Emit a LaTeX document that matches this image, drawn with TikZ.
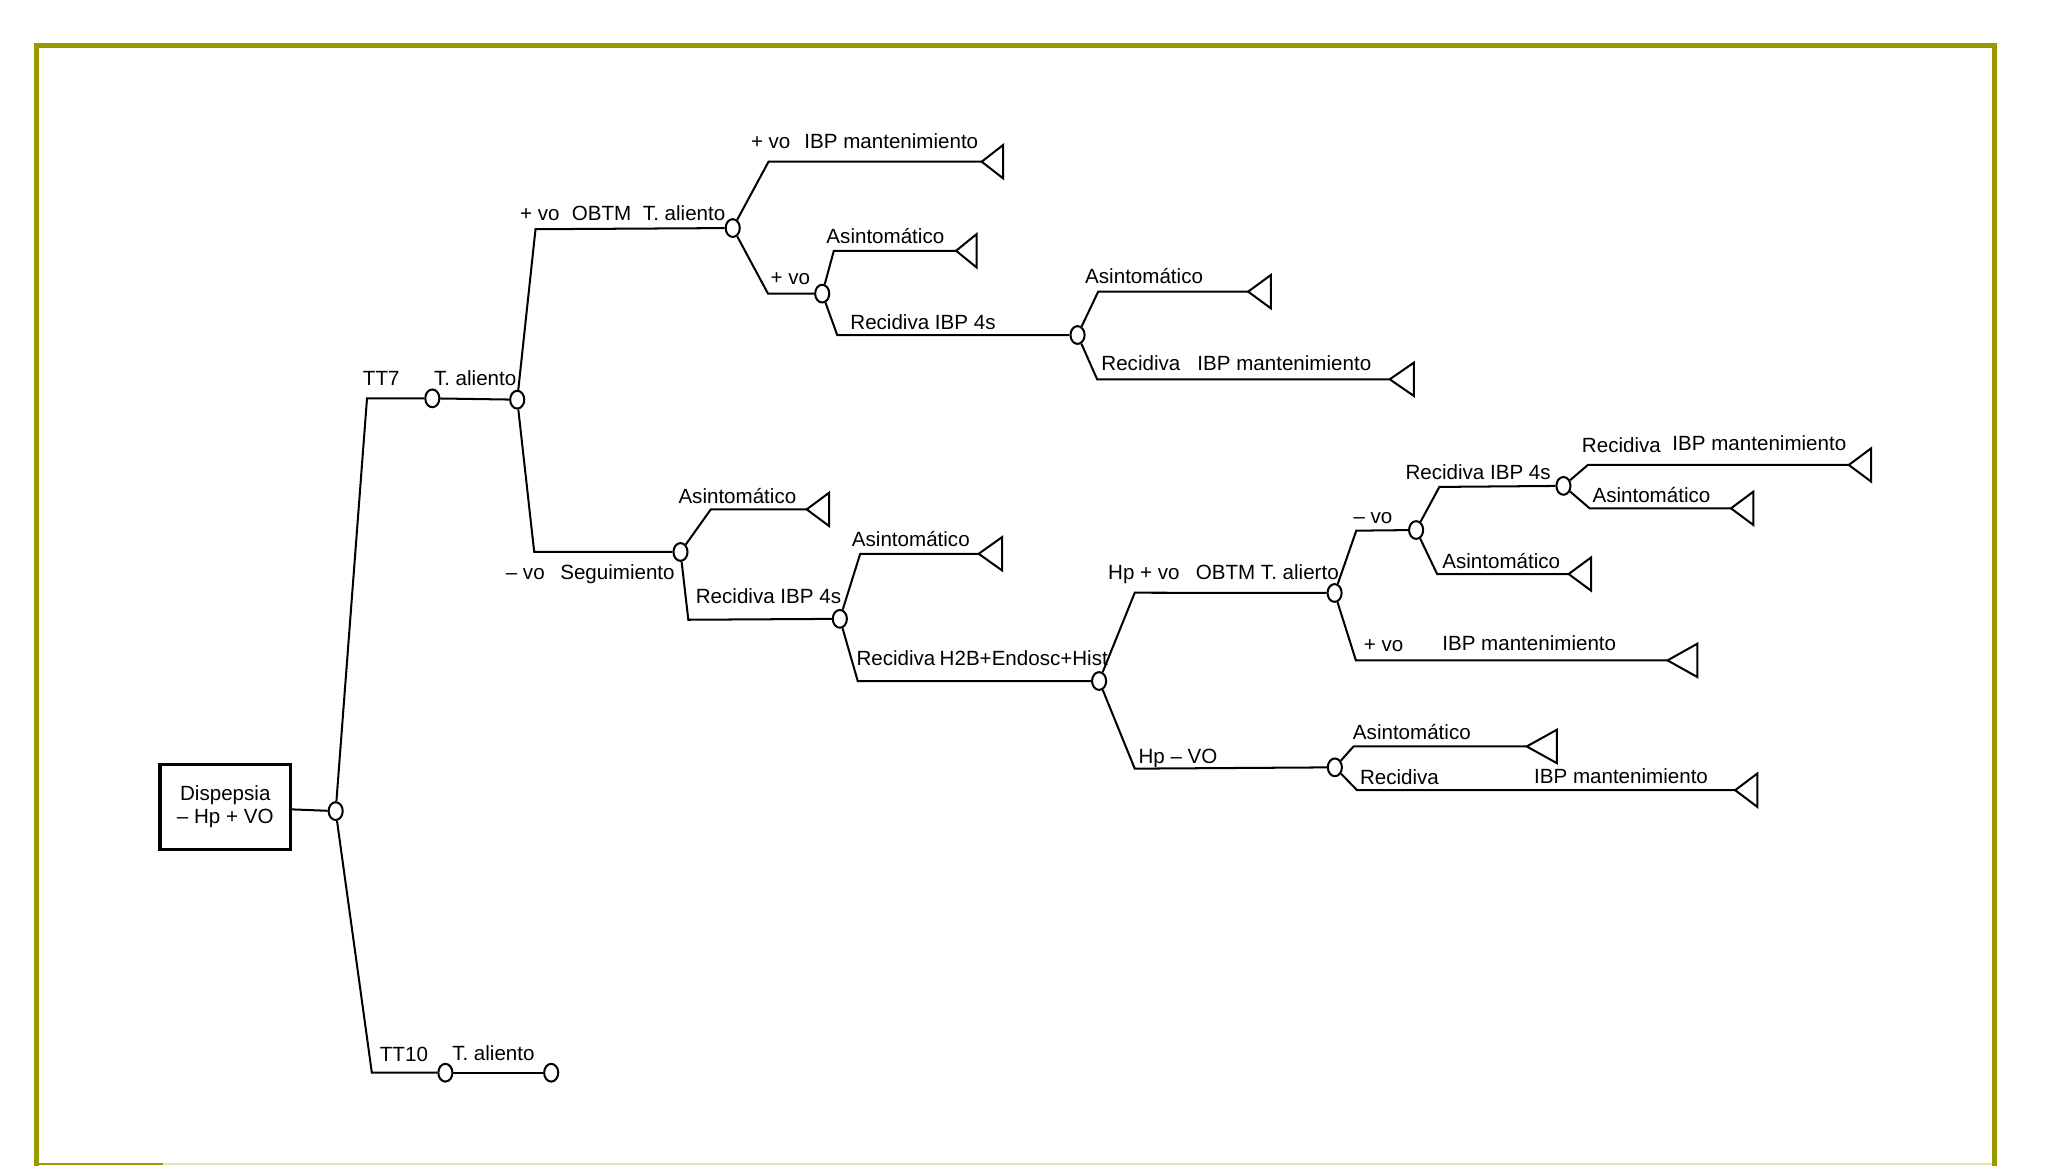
\documentclass[tikz,border=0pt]{standalone}
\usepackage{fontspec}
\setmainfont{Liberation Sans}
\usetikzlibrary{shapes.geometric}
\definecolor{frameolive}{RGB}{153,153,0}
\definecolor{palebot}{RGB}{228,228,180}
\newcommand{\termnode}[4]{\coordinate (#1) at (#2,#3); \draw[tree] (#1) -- ++(#4,-12.75) -- ++(0,25.5) -- cycle;}
\begin{document}
\begin{tikzpicture}[x=0.025cm,y=-0.025cm,
  tree/.style={line width=1.1pt, black, line join=miter},
  chance/.style={ellipse, draw, line width=1.1pt, fill=white, minimum width=0.27cm, minimum height=0.34cm, inner sep=0pt},
  lab/.style={anchor=base west, inner sep=0pt, font=\fontsize{11.2}{12.8}\selectfont},
  labr/.style={lab, anchor=base east},
  rootbox/.style={draw, line width=1.7pt, minimum width=2.5cm, minimum height=1.63cm, align=center, inner sep=0pt, font=\fontsize{11.2}{12.8}\selectfont},
  framestyle/.style={draw=frameolive, line width=0.1cm}]
\useasboundingbox (0,0) rectangle (1568,892);
% frame
\draw[framestyle] (28,893) -- (28,35) -- (1526.8,35) -- (1526.8,893);
\draw[palebot, line width=0.03cm] (125,891.4) -- (1525,891.4);
\draw[frameolive, line width=0.03cm] (30,891.4) -- (125,891.4);
% root
\node[rootbox] (root) at (172.5,617.7) {Dispepsia\\– Hp + VO};
% chance nodes
\node[chance] (R0) at (257,621) {};
\node[chance] (A1) at (331,305) {};
\node[chance] (A2) at (396,306) {};
\node[chance] (B1) at (341,821.3) {};
\node[chance] (B2) at (422,821.3) {};
\node[chance] (C1) at (561,174.6) {};
\node[chance] (C2) at (521,422.6) {};
\node[chance] (D1) at (629.5,224.8) {};
\node[chance] (D2) at (825,256.5) {};
\node[chance] (E1) at (643,473.8) {};
\node[chance] (F1) at (841.5,521.4) {};
\node[chance] (G1) at (1021.8,454) {};
\node[chance] (G2) at (1022,587.5) {};
\node[chance] (H1) at (1084.2,405.8) {};
\node[chance] (I1) at (1197,372) {};
% terminal triangles
\termnode{T1}{751.6}{123.8}{16.4}
\termnode{T2}{732}{192}{15.7}
\termnode{T3}{955.6}{223.3}{17.4}
\termnode{T4}{1064}{290.4}{18.5}
\termnode{T5}{617.6}{390}{17.2}
\termnode{T6}{749.3}{424}{17.9}
\termnode{T7}{1276.7}{505.6}{22.8}
\termnode{T8}{1201}{439.5}{17.2}
\termnode{T9}{1415.5}{356}{17.1}
\termnode{T10}{1325.3}{389.2}{17.1}
\termnode{T11}{1168.9}{571.5}{23}
\termnode{T12}{1328.5}{605}{16.9}
% connectors
\draw[tree] (root) -- (R0);
\draw[tree] (R0) -- (281,305) -- (A1);
\draw[tree] (A1) -- (A2);
\draw[tree] (R0) -- (284.7,821.3) -- (B1);
\draw[tree] (B1) -- (B2);
\draw[tree] (A2) -- (410,175.5) -- (C1);
\draw[tree] (A2) -- (409,422.6) -- (C2);
\draw[tree] (C1) -- (588.4,123.8) -- (T1);
\draw[tree] (C1) -- (588,224.8) -- (D1);
\draw[tree] (D1) -- (638.4,192) -- (T2);
\draw[tree] (D1) -- (641,256.5) -- (D2);
\draw[tree] (D2) -- (840.8,223.3) -- (T3);
\draw[tree] (D2) -- (840,290.4) -- (T4);
\draw[tree] (C2) -- (544.2,390) -- (T5);
\draw[tree] (C2) -- (527,474.5) -- (E1);
\draw[tree] (E1) -- (658.6,424) -- (T6);
\draw[tree] (E1) -- (656.7,521.4) -- (F1);
\draw[tree] (F1) -- (868.8,453.8) -- (G1);
\draw[tree] (F1) -- (868.8,588.5) -- (G2);
\draw[tree] (G1) -- (1038.4,406.3) -- (H1);
\draw[tree] (G1) -- (1038.1,505.6) -- (T7);
\draw[tree] (H1) -- (1102,372.8) -- (I1);
\draw[tree] (H1) -- (1100.3,439.5) -- (T8);
\draw[tree] (I1) -- (1215.7,356) -- (T9);
\draw[tree] (I1) -- (1217.1,389.2) -- (T10);
\draw[tree] (G2) -- (1036.3,571.5) -- (T11);
\draw[tree] (G2) -- (1039,605) -- (T12);
% labels
\node[lab] (l1) at (277.6,294.8) {TT7};
\node[lab] (l2) at (332,295) {T. aliento};
\node[lab] (l3) at (290.6,813) {TT10};
\node[lab] (l4) at (346,811.6) {T. aliento};
\node[lab] (l5) at (398,168.5) {+ vo};
\node[lab] (l6) at (437.5,168.5) {OBTM};
\node[lab] (l7) at (492,168.5) {T. aliento};
\node[lab] (l8) at (387,443.6) {– vo};
\node[labr] (l9) at (516.8,443.6) {Seguimiento};
\node[lab] (l10) at (574.7,113.6) {+ vo};
\node[lab] (l11) at (615.6,113.6) {IBP mantenimiento};
\node[lab] (l12) at (589.7,217.7) {+ vo};
\node[lab] (l13) at (632.5,186.3) {Asintomático};
\node[lab] (l14) at (650.8,252.2) {Recidiva IBP 4s};
\node[lab] (l15) at (830.6,217) {Asintomático};
\node[lab] (l16) at (843,283.3) {Recidiva};
\node[lab] (l17) at (916.5,283.3) {IBP mantenimiento};
\node[lab] (l18) at (519.2,385.4) {Asintomático};
\node[lab] (l19) at (532.5,462) {Recidiva IBP 4s};
\node[lab] (l20) at (652,418.6) {Asintomático};
\node[lab] (l21) at (655.5,509.2) {Recidiva};
\node[lab] (l22) at (719.2,509.2) {H2B+Endosc+Hist};
\node[lab] (l23) at (848.2,444) {Hp + vo};
\node[lab] (l24) at (915.3,444) {OBTM T. alierto};
\node[lab] (l25) at (871.4,584.5) {Hp – VO};
\node[lab] (l26) at (1036,400.5) {– vo};
\node[lab] (l27) at (1044,499) {+ vo};
\node[lab] (l28) at (1104,498.2) {IBP mantenimiento};
\node[lab] (l29) at (1075.8,366.8) {Recidiva IBP 4s};
\node[lab] (l30) at (1104,435.2) {Asintomático};
\node[lab] (l31) at (1210.9,346.3) {Recidiva};
\node[lab] (l32) at (1280.2,345) {IBP mantenimiento};
\node[lab] (l33) at (1219,384.9) {Asintomático};
\node[lab] (l34) at (1035.6,566.1) {Asintomático};
\node[lab] (l35) at (1041,600.5) {Recidiva};
\node[lab] (l36) at (1174.3,599.8) {IBP mantenimiento};
\end{tikzpicture}
\end{document}
